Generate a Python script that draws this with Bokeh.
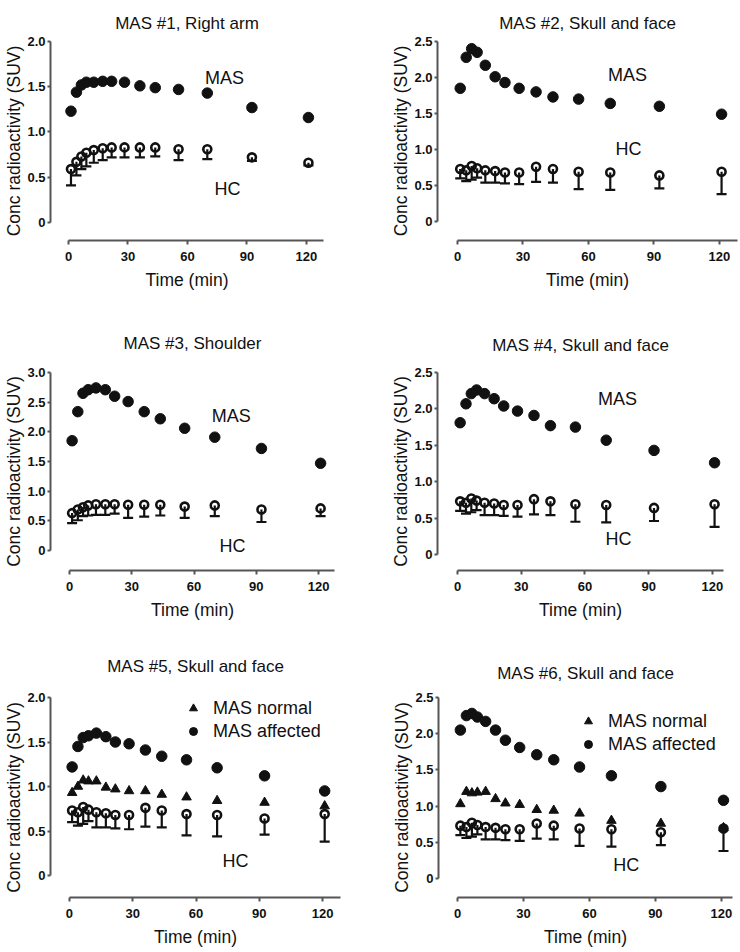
from bokeh.plotting import figure
from bokeh.layouts import column, row
from bokeh.models import (Range1d, FixedTicker, Whisker, TeeHead, ColumnDataSource,
                          Legend, LegendItem, NumeralTickFormatter)
from bokeh.core.properties import value
from bokeh.embed import file_html
from bokeh.resources import INLINE

# ---------------- data ----------------
time_min = [1.25, 4, 6.5, 9, 12.75, 17.25, 21.75, 28.25, 36, 43.75, 55.5, 70, 92.5, 121]

# healthy controls (mean and lower error limit)
hc_arm = [0.59, 0.67, 0.73, 0.77, 0.80, 0.82, 0.83, 0.83, 0.83, 0.83, 0.81, 0.81, 0.72, 0.66]
hc_arm_lo = [0.41, 0.52, 0.59, 0.62, 0.66, 0.69, 0.72, 0.72, 0.72, 0.73, 0.69, 0.70, 0.68, 0.63]
hc_shoulder = [0.63, 0.69, 0.73, 0.76, 0.78, 0.78, 0.78, 0.77, 0.77, 0.77, 0.74, 0.76, 0.69, 0.71]
hc_shoulder_lo = [0.46, 0.51, 0.58, 0.59, 0.60, 0.60, 0.62, 0.55, 0.57, 0.59, 0.55, 0.58, 0.48, 0.58]
hc_skull = [0.73, 0.71, 0.77, 0.74, 0.71, 0.70, 0.68, 0.68, 0.76, 0.73, 0.69, 0.68, 0.64, 0.69]
hc_skull_lo = [0.60, 0.56, 0.58, 0.61, 0.54, 0.54, 0.53, 0.52, 0.55, 0.54, 0.45, 0.44, 0.46, 0.38]

mas1 = [1.23, 1.44, 1.52, 1.55, 1.55, 1.56, 1.56, 1.55, 1.51, 1.49, 1.47, 1.43, 1.27, 1.16]
mas2 = [1.85, 2.28, 2.40, 2.35, 2.17, 2.01, 1.93, 1.85, 1.80, 1.73, 1.70, 1.64, 1.60, 1.49]
mas3 = [1.85, 2.34, 2.65, 2.71, 2.74, 2.71, 2.60, 2.51, 2.34, 2.22, 2.06, 1.91, 1.72, 1.47]
mas4 = [1.81, 2.07, 2.21, 2.26, 2.21, 2.14, 2.04, 1.97, 1.91, 1.77, 1.75, 1.57, 1.43, 1.26]
mas5_affected = [1.22, 1.45, 1.55, 1.57, 1.60, 1.56, 1.50, 1.48, 1.41, 1.34, 1.30, 1.21, 1.12, 0.95]
mas5_normal = [0.93, 1.00, 1.07, 1.06, 1.06, 0.99, 0.97, 0.95, 0.95, 0.91, 0.88, 0.84, 0.82, 0.78]
mas6_affected = [2.05, 2.25, 2.28, 2.23, 2.17, 2.05, 1.91, 1.81, 1.71, 1.64, 1.54, 1.42, 1.27, 1.08]
mas6_normal = [1.03, 1.20, 1.18, 1.19, 1.20, 1.10, 1.04, 1.02, 0.95, 0.94, 0.90, 0.80, 0.76, 0.70]

titles = ["MAS #1, Right arm", "MAS #2, Skull and face", "MAS #3, Shoulder",
          "MAS #4, Skull and face", "MAS #5, Skull and face", "MAS #6, Skull and face"]
x_ticks = [0, 30, 60, 90, 120]
y_max = [2.0, 2.5, 3.0, 2.5, 2.0, 2.5]
x_label = "Time (min)"
y_label = "Conc radioactivity (SUV)"
legend_labels = ["MAS normal", "MAS affected"]

# annotation labels (text, x, y) per panel
ann_text = [["MAS", "HC"], ["MAS", "HC"], ["MAS", "HC"], ["MAS", "HC"], ["HC"], ["HC"]]
ann_x = [[78.7, 80.2], [77.9, 78.3], [78.0, 78.5], [75.3, 75.8], [78.7], [76.7]]
ann_y = [[1.60, 0.37], [2.04, 1.00], [2.26, 0.07], [2.14, 0.21], [0.16], [0.18]]

# ---------------- style ----------------
FONT = "Liberation Sans"
AXIS_COLOR = "#555555"
INK = "#111111"

# geometry: (width, height, min_border left/right/top/bottom, x start, x end, y start,
#            title standoff)
geoms = [
    (370, 310, 50, 47, 41, 70, -9.08, 128.6, -0.199, 18),
    (370, 310, 67, 3, 41, 70, -9.16, 128.3, -0.264, 18),
    (370, 320, 50, 36, 62, 60, -9.16, 127.7, -0.337, 39),
    (370, 320, 67, 17, 62, 60, -9.41, 125.2, -0.220, 36),
    (370, 322, 50, 30, 67, 55, -9.0, 128.5, -0.247, 44),
    (370, 322, 68, 8, 67, 55, -8.7, 125.1, -0.262, 30),
]
legend_loc = [None, None, None, None, (133, 155), (140, 142)]


def make_panel(i, mas, hc, hc_lo, normal=None):
    w, h, bl, br, bt, bb, xs, xe, ys, tstand = geoms[i]
    ym = y_max[i]
    p = figure(width=w, height=h, output_backend="svg", toolbar_location=None,
               x_range=Range1d(xs, xe), y_range=Range1d(ys, ym),
               min_border_left=bl, min_border_right=br, min_border_top=bt,
               min_border_bottom=bb, x_axis_label=x_label, y_axis_label=y_label,
               title=titles[i])
    p.outline_line_color = None
    p.grid.visible = False
    p.background_fill_color = "white"
    p.border_fill_color = "white"

    p.title.text_font = FONT
    p.title.text_font_size = "17px"
    p.title.text_font_style = "normal"
    p.title.text_color = INK
    p.title.align = "center"
    p.title.standoff = tstand

    for ax in (p.xaxis[0], p.yaxis[0]):
        ax.axis_line_width = 2
        ax.axis_line_color = AXIS_COLOR
        ax.major_tick_line_color = AXIS_COLOR
        ax.major_tick_line_width = 2
        ax.minor_tick_line_color = None
        ax.major_tick_in = 0
        ax.major_tick_out = 4
        ax.major_label_text_font = FONT
        ax.major_label_text_font_style = "bold"
        ax.major_label_text_font_size = "13px"
        ax.major_label_text_color = INK
        ax.axis_label_text_font = FONT
        ax.axis_label_text_font_style = "normal"
        ax.axis_label_text_font_size = "17.5px"
        ax.axis_label_text_color = INK

    p.xaxis.ticker = FixedTicker(ticks=x_ticks)
    p.xaxis.bounds = (0, xe)
    p.xaxis.major_label_standoff = 7
    p.xaxis.axis_label_standoff = 6

    yt = [k * 0.5 for k in range(int(round(ym / 0.5)) + 1)]
    p.yaxis.ticker = FixedTicker(ticks=yt)
    p.yaxis.formatter = NumeralTickFormatter(format="0.0")
    p.yaxis.major_label_overrides = {0: "0"}
    p.yaxis.bounds = (0, ym)
    p.yaxis.major_tick_out = 3
    p.yaxis.major_label_standoff = 2
    p.yaxis.axis_label_standoff = 0

    src = ColumnDataSource(dict(t=time_min, hc=hc, lo=hc_lo, mas=mas,
                                normal=normal if normal is not None else [None] * len(time_min)))
    wk = Whisker(source=src, base="t", upper="hc", lower="lo",
                 line_color=INK, line_width=2.2,
                 lower_head=TeeHead(size=10, line_color=INK, line_width=2.2),
                 upper_head=None, level="glyph")
    p.add_layout(wk)
    p.scatter("t", "hc", source=src, size=9, fill_color="white", line_color=None)
    p.scatter("t", "hc", source=src, size=8, fill_color=None, line_color=INK, line_width=2.6)

    tri = None
    if normal is not None:
        tri = p.scatter("t", "normal", source=src, marker="triangle", size=9.5,
                        fill_color=INK, line_color=INK)
    circ = p.scatter("t", "mas", source=src, size=10.5, fill_color=INK, line_color=INK)

    p.text(x=ann_x[i], y=ann_y[i], text=ann_text[i], text_align="center",
           text_baseline="middle", text_font=value(FONT), text_font_size="18px",
           text_color=INK)

    if normal is not None:
        leg = Legend(items=[LegendItem(label=legend_labels[0], renderers=[tri]),
                            LegendItem(label=legend_labels[1], renderers=[circ])],
                     location=legend_loc[i], border_line_color=None,
                     background_fill_alpha=0, padding=0, margin=0, spacing=1,
                     glyph_width=20, glyph_height=22, label_height=22,
                     label_standoff=10, label_text_font=FONT,
                     label_text_font_size="18px", label_text_color=INK)
        p.add_layout(leg)
    return p


p1 = make_panel(0, mas1, hc_arm, hc_arm_lo)
p2 = make_panel(1, mas2, hc_skull, hc_skull_lo)
p3 = make_panel(2, mas3, hc_shoulder, hc_shoulder_lo)
p4 = make_panel(3, mas4, hc_skull, hc_skull_lo)
p5 = make_panel(4, mas5_affected, hc_skull, hc_skull_lo, mas5_normal)
p6 = make_panel(5, mas6_affected, hc_skull, hc_skull_lo, mas6_normal)

layout = column(row(p1, p2), row(p3, p4), row(p5, p6))
open("out.html", "w").write(file_html(layout, INLINE))
